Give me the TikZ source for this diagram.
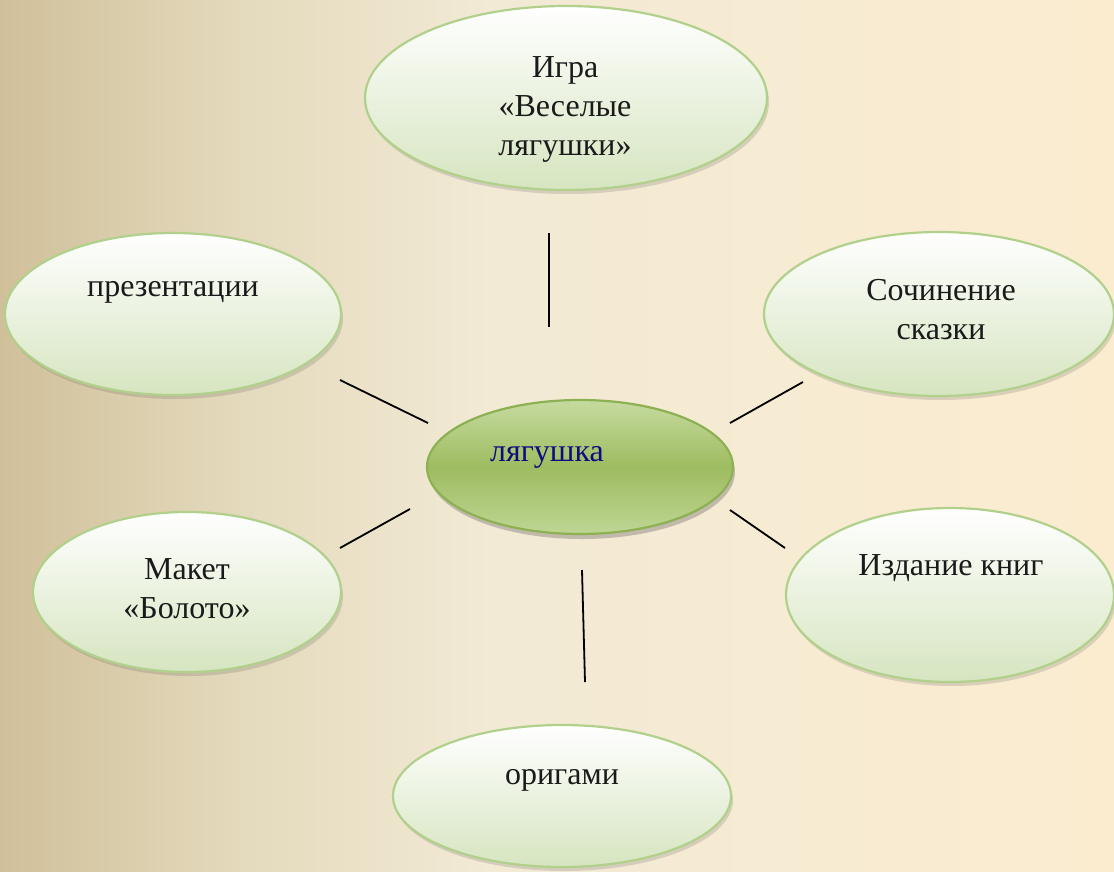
\documentclass[tikz,border=0pt]{standalone}
\usepackage{fontspec}
\setmainfont{Liberation Serif}
\usetikzlibrary{shapes.geometric,shadows}
\definecolor{bgA}{HTML}{D0C09A}
\definecolor{bgB}{HTML}{E4DABD}
\definecolor{bgC}{HTML}{F2EAD5}
\definecolor{bgD}{HTML}{FBECD0}
\definecolor{ovalTop}{HTML}{FFFFFF}
\definecolor{ovalBot}{HTML}{D6E5C0}
\definecolor{ovalLine}{HTML}{B1D08B}
\definecolor{frogTop}{HTML}{C6DBA0}
\definecolor{frogMid}{HTML}{9EBC60}
\definecolor{frogBot}{HTML}{BED694}
\definecolor{frogLine}{HTML}{8DB053}
\definecolor{txt}{HTML}{1A1A1A}
\definecolor{navytxt}{HTML}{0C0C80}
\pgfdeclarehorizontalshading{bgshade}{100bp}{color(0bp)=(bgA); color(25bp)=(bgA); color(36bp)=(bgB); color(47bp)=(bgC); color(75bp)=(bgD); color(100bp)=(bgD)}
\pgfdeclareverticalshading{frogshade}{100bp}{color(0bp)=(frogBot); color(25bp)=(frogBot); color(50bp)=(frogMid); color(75bp)=(frogTop); color(100bp)=(frogTop)}
\tikzset{
  oval/.style={ellipse, draw=ovalLine, line width=2.2pt, top color=ovalTop, bottom color=ovalBot, inner sep=0pt,
    drop shadow={shadow xshift=2pt, shadow yshift=-4pt, opacity=0.18, fill=black!70}},
  frog/.style={ellipse, draw=frogLine, line width=2.2pt, shading=frogshade, inner sep=0pt,
    drop shadow={shadow xshift=2pt, shadow yshift=-5pt, opacity=0.3, fill=black!70}},
  lbl/.style={font=\fontsize{32}{39}\selectfont, text=txt, align=center, inner sep=0pt},
  conn/.style={draw=black, line width=1.8pt}
}
\begin{document}
\begin{tikzpicture}[x=1pt,y=-1pt]
\useasboundingbox (0,0) rectangle (1114,871);
\shade[shading=bgshade] (0,0) rectangle (1114,871);

\node[oval, minimum width=402pt, minimum height=184pt] (igra) at (566,98) {};
\node[oval, minimum width=336pt, minimum height=162pt] (prez) at (173,314) {};
\node[oval, minimum width=350pt, minimum height=164pt] (soch) at (939,314) {};
\node[oval, minimum width=328pt, minimum height=174pt] (izd) at (950,595) {};
\node[oval, minimum width=308pt, minimum height=160pt] (maket) at (187,592) {};
\node[oval, minimum width=338pt, minimum height=142pt] (orig) at (562,796) {};
\node[frog, minimum width=306pt, minimum height=134pt] (center) at (580,467) {};

\node[lbl] (igraT) at (565,109) {Игра\\«Веселые\\лягушки»};
\node[lbl] (prezT) at (173,292) {презентации};
\node[lbl] (sochT) at (941,310) {Сочинение\\сказки};
\node[lbl] (izdT) at (951,568) {Издание книг};
\node[lbl] (maketT) at (187,589) {Макет\\«Болото»};
\node[lbl] (origT) at (562,780) {оригами};
\node[lbl, text=navytxt] (centerT) at (547,457) {лягушка};

\coordinate (a1) at (549,233); \coordinate (a2) at (549,327);
\coordinate (b1) at (340,380); \coordinate (b2) at (428,423);
\coordinate (c1) at (803,382); \coordinate (c2) at (730,423);
\coordinate (d1) at (410,509); \coordinate (d2) at (340,548);
\coordinate (e1) at (730,510); \coordinate (e2) at (785,548);
\coordinate (f1) at (582,570); \coordinate (f2) at (585,682);
\draw[conn] (a1) -- (a2);
\draw[conn] (b1) -- (b2);
\draw[conn] (c1) -- (c2);
\draw[conn] (d1) -- (d2);
\draw[conn] (e1) -- (e2);
\draw[conn] (f1) -- (f2);
\end{tikzpicture}
\end{document}
